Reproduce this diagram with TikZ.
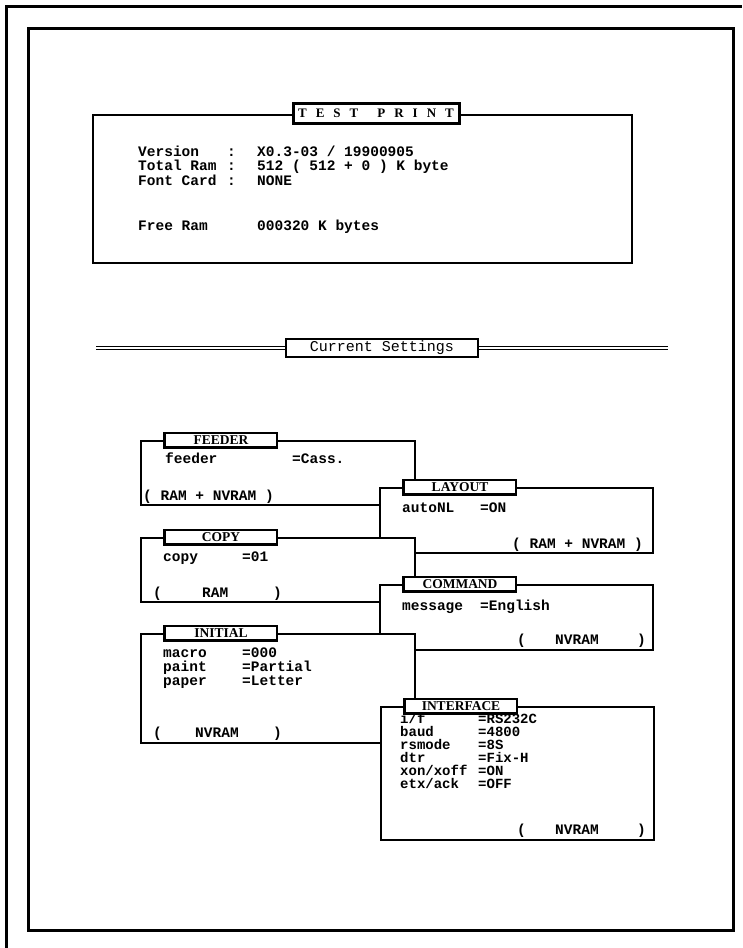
\documentclass[tikz,border=0pt]{standalone}
\usepackage{fontspec}
\newfontfamily\monof{Liberation Mono}
\newfontfamily\seriff{Liberation Serif}
\newcommand\setpanel[6]{%
  \draw[panelbox] (#2,#3) rectangle (#4,#5);
  \node[tab] (#1) at (#2+80,#3-1) {#6};
  \draw[tabshadow] (#1.north west) -- (#1.south west) -- (#1.south east);
}
\begin{document}
\begin{tikzpicture}[x=1pt,y=-1pt,
  frame/.style={line width=3pt},
  panelbox/.style={draw, line width=1.8pt, fill=white},
  tab/.style={draw, line width=1.2pt, fill=white, minimum width=112pt, minimum height=14pt, inner sep=0pt,
    font=\seriff\bfseries\fontsize{13.5}{13.5}\selectfont},
  tabshadow/.style={line width=2.6pt},
  titlebox/.style={draw, line width=3pt, fill=white, minimum width=166pt, minimum height=20pt, inner sep=0pt,
    font=\seriff\bfseries\fontsize{13}{13}\selectfont},
  csbox/.style={draw, line width=1.2pt, fill=white, minimum width=192pt, minimum height=18pt, inner sep=0pt,
    font=\monof\fontsize{15}{15}\selectfont},
  txt/.style={anchor=west, inner sep=0pt, text height=8pt, text depth=0pt,
    font=\monof\bfseries\fontsize{14.5}{14.5}\selectfont},
  stxt/.style={txt, font=\monof\bfseries\fontsize{14}{14}\selectfont},
]
\useasboundingbox (0,0) rectangle (742,948);
\fill[white] (0,0) rectangle (742,948);
% frames
\draw[frame] (6,948) -- (6,6) -- (742,6);
\draw[frame] (28,28) rectangle (733,930);

% TEST PRINT
\draw[panelbox] (93,115) rectangle (632,263);
\node[titlebox] (title) at (376,113) {T\hskip9pt E\hskip9pt S\hskip9pt T\hskip19pt P\hskip9pt R\hskip9pt I\hskip9pt N\hskip9pt T};
\node[txt] (l1) at (138,152) {Version};
\node[txt] (c1) at (227,152) {:};
\node[txt] (v1) at (257,152) {X0.3-03 / 19900905};
\node[txt] (l2) at (138,166) {Total Ram};
\node[txt] (c2) at (227,166) {:};
\node[txt] (v2) at (257,166) {512 ( 512 + 0 ) K byte};
\node[txt] (l3) at (138,181) {Font Card};
\node[txt] (c3) at (227,181) {:};
\node[txt] (v3) at (257,181) {NONE};
\node[txt] (l4) at (138,226) {Free Ram};
\node[txt] (v4) at (257,226) {000320 K bytes};

% Current Settings
\coordinate (csl) at (96,348);
\coordinate (csr) at (668,348);
\draw[line width=1pt, double distance=2.5pt] (csl) -- (csr);
\node[csbox] (cs) at (382,348) {Current Settings};

% FEEDER
\setpanel{feeder}{141}{441}{415}{505}{FEEDER}
\node[txt] (f1) at (165,459) {feeder};
\node[txt] (f1v) at (292,459) {=Cass.};
\node[txt] (f9) at (143,496) {( RAM + NVRAM )};

% LAYOUT
\setpanel{layout}{380}{488}{653}{553}{LAYOUT}
\node[txt] (la1) at (402,508) {autoNL};
\node[txt] (la1v) at (480,508) {=ON};
\node[txt] (la9) at (512,544) {( RAM + NVRAM )};

% COPY
\setpanel{copy}{141}{538}{415}{602}{COPY}
\node[txt] (co1) at (163,557) {copy};
\node[txt] (co1v) at (242,557) {=01};
\node[txt] (co9a) at (153,593) {(};
\node[txt] (co9b) at (202,593) {RAM};
\node[txt] (co9c) at (273,593) {)};

% COMMAND
\setpanel{command}{380}{585}{653}{650}{COMMAND}
\node[txt] (cm1) at (402,606) {message};
\node[txt] (cm1v) at (480,606) {=English};
\node[txt] (cm9a) at (517,640) {(};
\node[txt] (cm9b) at (555,640) {NVRAM};
\node[txt] (cm9c) at (637,640) {)};

% INITIAL
\setpanel{initial}{141}{634}{415}{743}{INITIAL}
\node[txt] (in1) at (163,653) {macro};
\node[txt] (in1v) at (242,653) {=000};
\node[txt] (in2) at (163,667) {paint};
\node[txt] (in2v) at (242,667) {=Partial};
\node[txt] (in3) at (163,681) {paper};
\node[txt] (in3v) at (242,681) {=Letter};
\node[txt] (in9a) at (153,733) {(};
\node[txt] (in9b) at (195,733) {NVRAM};
\node[txt] (in9c) at (273,733) {)};

% INTERFACE
\setpanel{interface}{381}{707}{654}{840}{INTERFACE}
\node[stxt] (if1) at (400,719) {i/f};
\node[stxt] (if1v) at (478,719) {=RS232C};
\node[stxt] (if2) at (400,732) {baud};
\node[stxt] (if2v) at (478,732) {=4800};
\node[stxt] (if3) at (400,745) {rsmode};
\node[stxt] (if3v) at (478,745) {=8S};
\node[stxt] (if4) at (400,758) {dtr};
\node[stxt] (if4v) at (478,758) {=Fix-H};
\node[stxt] (if5) at (400,771) {xon/xoff};
\node[stxt] (if5v) at (478,771) {=ON};
\node[stxt] (if6) at (400,784) {etx/ack};
\node[stxt] (if6v) at (478,784) {=OFF};
\node[txt] (if9a) at (517,830) {(};
\node[txt] (if9b) at (555,830) {NVRAM};
\node[txt] (if9c) at (637,830) {)};
\end{tikzpicture}
\end{document}
